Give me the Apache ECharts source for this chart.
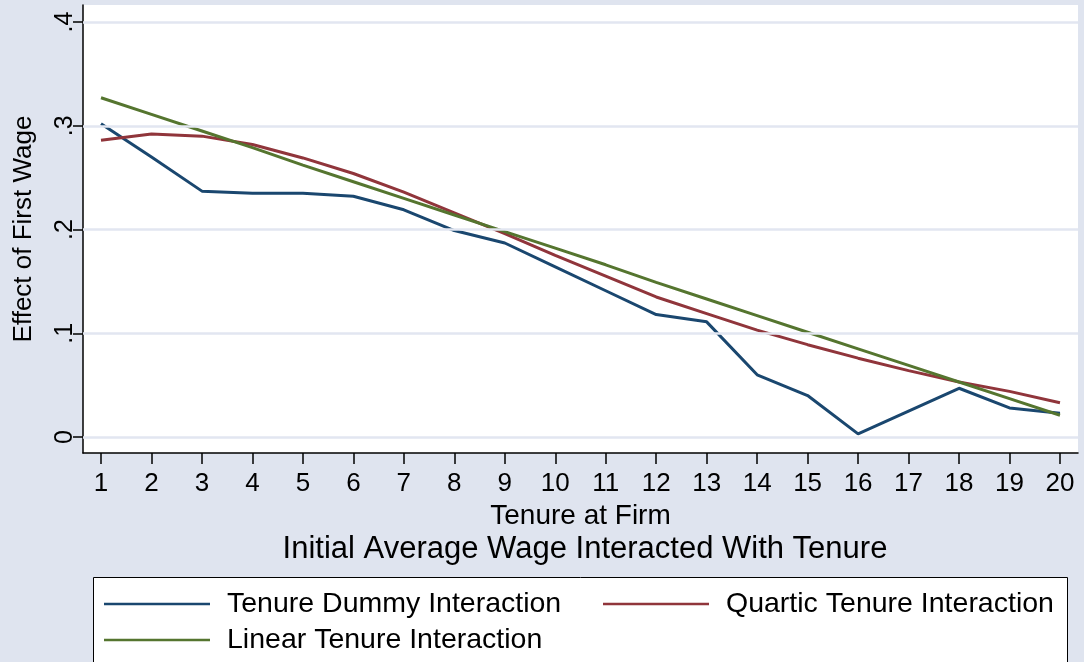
<!DOCTYPE html>
<html>
<head>
<meta charset="utf-8">
<script src="https://cdn.jsdelivr.net/npm/echarts@6/dist/echarts.min.js"></script>
<style>
html,body{margin:0;padding:0;background:#dfe4ef;}
#c{width:1084px;height:662px;}
</style>
</head>
<body>
<div id="c"></div>
<script>
// ---- data ----
const tenure = [1,2,3,4,5,6,7,8,9,10,11,12,13,14,15,16,17,18,19,20];
const dummyInteraction   = [0.302,0.270,0.237,0.235,0.235,0.232,0.219,0.199,0.187,0.164,0.141,0.118,0.111,0.060,0.040,0.003,0.025,0.047,0.028,0.023];
const quarticInteraction = [0.286,0.292,0.290,0.282,0.269,0.254,0.236,0.216,0.196,0.175,0.155,0.135,0.119,0.103,0.089,0.076,0.064,0.053,0.044,0.033];
const linearInteraction  = [0.327,0.311,0.295,0.279,0.262,0.246,0.230,0.214,0.198,0.182,0.166,0.149,0.133,0.117,0.101,0.085,0.069,0.053,0.037,0.021];
const seriesNames = ['Tenure Dummy Interaction','Quartic Tenure Interaction','Linear Tenure Interaction'];
const yTicks = [0, 0.1, 0.2, 0.3, 0.4];
const yTickLabels = ['0', '.1', '.2', '.3', '.4'];
const xAxisTitle = 'Tenure at Firm';
const yAxisTitle = 'Effect of First Wage';
const subTitle = 'Initial Average Wage Interacted With Tenure';

// ---- styling ----
const FONT = '"Liberation Sans", Arial, sans-serif';
const colors = ['#1a476f', '#90353b', '#55752f'];
const gridColor = '#e2e6f1';

const chart = echarts.init(document.getElementById('c'), null, {renderer: 'canvas'});

const mk = (name, vals, color) => ({
  name: name,
  type: 'line',
  data: tenure.map((t, i) => [t, vals[i]]),
  symbol: 'none',
  z: 3,
  lineStyle: {color: color, width: 3},
  itemStyle: {color: color},
  animation: false
});

const legendCommon = {
  padding: 0,
  itemWidth: 106,
  itemHeight: 30,
  icon: 'path://M0,14 L106,14 L106,16.6 L0,16.6 Z',
  selectedMode: false,
  textStyle: {fontFamily: FONT, fontSize: 28.5, color: '#000', lineHeight: 30, padding: [0, 0, 0, 12]}
};

const option = {
  backgroundColor: '#dfe4ef',
  animation: false,
  textStyle: {fontFamily: FONT},
  title: {
    text: subTitle,
    left: 580,
    textAlign: 'center',
    top: 529,
    textStyle: {fontFamily: FONT, fontSize: 31, fontWeight: 'normal', color: '#000'}
  },
  graphic: [{
    type: 'rect',
    shape: {x: 93.5, y: 577.5, width: 974, height: 120},
    style: {fill: '#ffffff', stroke: '#000000', lineWidth: 1},
    z: 0
  }],
  legend: [
    Object.assign({}, legendCommon, {left: 104, top: 589, data: [seriesNames[0]]}),
    Object.assign({}, legendCommon, {left: 603, top: 589, data: [seriesNames[1]]}),
    Object.assign({}, legendCommon, {left: 104, top: 625, data: [seriesNames[2]]})
  ],
  grid: {
    left: 83, right: 6, top: 5, bottom: 209,
    show: true, backgroundColor: '#ffffff', borderWidth: 0
  },
  xAxis: {
    type: 'value',
    min: 0.6433, max: 20.357,
    name: xAxisTitle,
    nameLocation: 'middle',
    nameGap: 43,
    nameTextStyle: {fontFamily: FONT, fontSize: 28, color: '#000'},
    axisLine: {show: true, onZero: false, lineStyle: {color: '#000', width: 1.5}},
    axisTick: {show: true, length: 11, lineStyle: {color: '#000', width: 1.5}, customValues: tenure},
    axisLabel: {fontFamily: FONT, fontSize: 26, color: '#000', margin: 18, customValues: tenure},
    splitLine: {show: false}
  },
  yAxis: {
    type: 'value',
    min: -0.0154, max: 0.4164,
    name: yAxisTitle,
    nameLocation: 'middle',
    nameRotate: 90,
    nameGap: 46,
    nameTextStyle: {fontFamily: FONT, fontSize: 26, color: '#000'},
    axisLine: {show: true, onZero: false, lineStyle: {color: '#000', width: 1.5}},
    axisTick: {show: true, length: 10, lineStyle: {color: '#000', width: 1.5}, customValues: yTicks},
    axisLabel: {
      fontFamily: FONT, fontSize: 25, color: '#000', rotate: 90, margin: 5,
      customValues: yTicks,
      formatter: function (v) {
        const i = yTicks.findIndex(t => Math.abs(t - v) < 1e-9);
        return i >= 0 ? yTickLabels[i] : '';
      }
    },
    splitLine: {show: false}
  },
  series: [
    {
      name: '__grid', type: 'line', data: [], z: 1, silent: true,
      markLine: {
        silent: true, symbol: 'none', animation: false,
        label: {show: false},
        lineStyle: {color: gridColor, width: 2.5, type: 'solid'},
        data: yTicks.map(v => ({yAxis: v}))
      }
    },
    mk(seriesNames[0], dummyInteraction, colors[0]),
    mk(seriesNames[1], quarticInteraction, colors[1]),
    mk(seriesNames[2], linearInteraction, colors[2])
  ]
};
chart.setOption(option);
</script>
</body>
</html>
